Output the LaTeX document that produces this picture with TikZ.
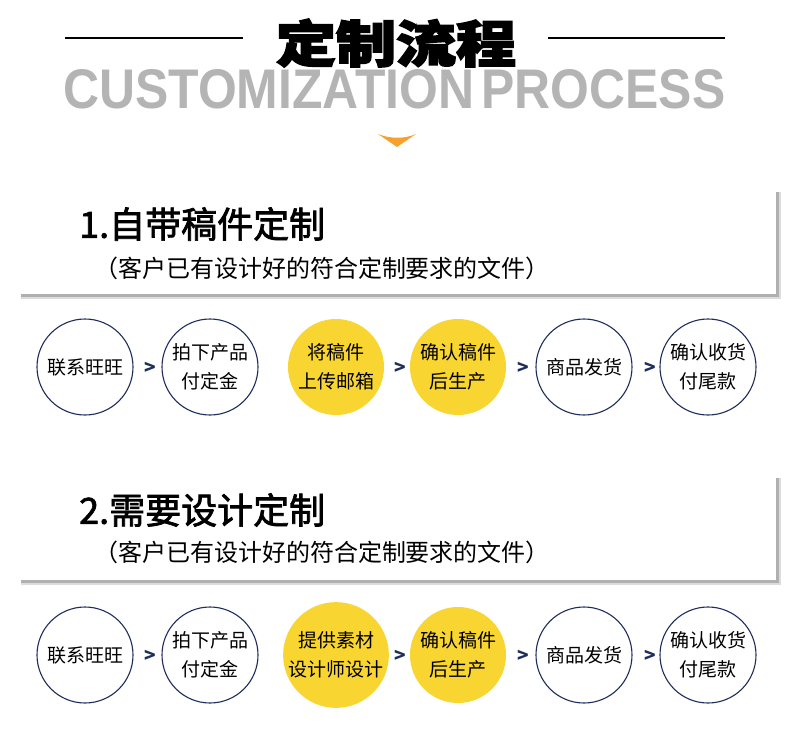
\documentclass[tikz,border=0pt]{standalone}
\usepackage{fontspec}
\setmainfont{Noto Sans CJK SC}
\newfontfamily\cjk{Noto Sans CJK SC}
\newfontfamily\cjktitle{Noto Sans CJK SC}[BoldFeatures={FakeBold=3}]
\newfontfamily\cjkhead{Noto Sans CJK SC}[FakeBold=2]
\newfontfamily\latinbold{Liberation Sans}
\definecolor{navy}{HTML}{1F2D5C}
\definecolor{yellowf}{HTML}{F8D530}
\definecolor{engray}{HTML}{B4B4B4}
\definecolor{orangea}{HTML}{F7A02E}
\definecolor{shadowg}{HTML}{B0B0B0}
\tikzset{
  flowc/.style={circle, draw=navy, line width=1.1pt, minimum size=96pt, inner sep=0pt,
    align=center, text=black, font=\cjk\fontsize{19}{29}\selectfont},
  flowy/.style={flowc, draw=none, fill=yellowf},
  gtsign/.style={inner sep=0pt, text=navy, font=\cjk\bfseries\fontsize{19}{19}\selectfont},
  headtxt/.style={inner sep=0pt, anchor=west, text=black, font=\cjkhead\fontsize{36}{36}\selectfont},
  subtxt/.style={inner sep=0pt, text=black, font=\cjk\fontsize{24}{24}\selectfont},
  topline/.style={line width=2pt, black}
}
\begin{document}
\begin{tikzpicture}[x=1pt, y=-1pt]
\useasboundingbox (0,0) rectangle (790,755);
\fill[white] (0,0) rectangle (790,755);
% header
\coordinate (l1a) at (65,38); \coordinate (l1b) at (243,38);
\coordinate (l2a) at (548,38); \coordinate (l2b) at (725,38);
\draw[topline] (l1a) -- (l1b);
\draw[topline] (l2a) -- (l2b);
\node[inner sep=0pt, xscale=1.2] (title) at (396,43) {\cjktitle\bfseries\fontsize{50}{50}\selectfont 定制流程};
\node[inner sep=0pt, anchor=base west, text=engray] (eng) at (63,108)
  {\resizebox{662pt}{39pt}{\latinbold\bfseries CUSTOMIZATION\hspace{0.15em}PROCESS}};
\fill[orangea] (378,134) .. controls (390,139) and (405,139) .. (416,134) -- (397,147) -- cycle;
% box 1
\fill[shadowg!45] (21,192) rectangle (781,299);
\fill[shadowg] (21,192) rectangle (779,297);
\fill[white] (18,189) rectangle (776,294);
\node[headtxt] (h1) at (79,224) {1.自带稿件定制};
\node[subtxt] (s1) at (322,268) {（客户已有设计好的符合定制要求的文件）};
% row 1
\node[flowc] (c11) at (85,367) {联系旺旺};
\node[flowc] (c12) at (210,367) {拍下产品\\付定金};
\node[flowy] (c13) at (336,367) {将稿件\\上传邮箱};
\node[flowy] (c14) at (458,367) {确认稿件\\后生产};
\node[flowc] (c15) at (584,367) {商品发货};
\node[flowc] (c16) at (708,367) {确认收货\\付尾款};
\node[gtsign] (g11) at (150,368) {>};
\node[gtsign] (g12) at (400,368) {>};
\node[gtsign] (g13) at (523,368) {>};
\node[gtsign] (g14) at (650,368) {>};
% box 2
\fill[shadowg!45] (21,478) rectangle (781,585);
\fill[shadowg] (21,478) rectangle (779,583);
\fill[white] (18,475) rectangle (776,580);
\node[headtxt] (h2) at (79,510) {2.需要设计定制};
\node[subtxt] (s2) at (322,552) {（客户已有设计好的符合定制要求的文件）};
% row 2
\node[flowc] (c21) at (85,655) {联系旺旺};
\node[flowc] (c22) at (210,655) {拍下产品\\付定金};
\node[flowy] (c23) at (336,655) {提供素材\\设计师设计};
\node[flowy] (c24) at (458,655) {确认稿件\\后生产};
\node[flowc] (c25) at (584,655) {商品发货};
\node[flowc] (c26) at (708,655) {确认收货\\付尾款};
\node[gtsign] (g21) at (150,656) {>};
\node[gtsign] (g22) at (400,656) {>};
\node[gtsign] (g23) at (523,656) {>};
\node[gtsign] (g24) at (650,656) {>};
\end{tikzpicture}
\end{document}
